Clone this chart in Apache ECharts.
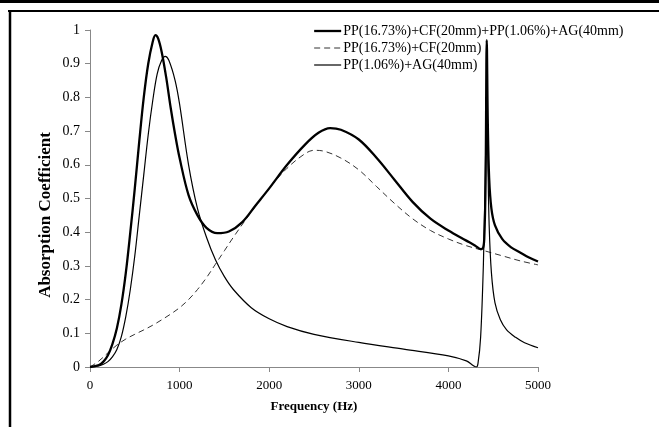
<!DOCTYPE html>
<html><head><meta charset="utf-8">
<script src="https://cdn.jsdelivr.net/npm/echarts@6/dist/echarts.min.js"></script>
<style>html,body{margin:0;padding:0;background:#fff}#c{width:659px;height:427px}</style>
</head><body><div id="c"></div>
<script>
const seriesNames = ['PP(16.73%)+CF(20mm)+PP(1.06%)+AG(40mm)', 'PP(16.73%)+CF(20mm)', 'PP(1.06%)+AG(40mm)'];
const xTicks = [0, 1000, 2000, 3000, 4000, 5000];
const yTicks = [0, 0.1, 0.2, 0.3, 0.4, 0.5, 0.6, 0.7, 0.8, 0.9, 1];
const xTitle = 'Frequency (Hz)';
const yTitle = 'Absorption Coefficient';

// [frequency Hz, absorption]
const combined = [
  [0,0],[100,0.006],[150,0.016],[200,0.035],[250,0.068],[300,0.115],[350,0.185],[400,0.28],[450,0.4],[500,0.53],[550,0.67],[600,0.8],[650,0.9],[700,0.965],[730,0.985],[760,0.975],[800,0.935],[850,0.86],[900,0.77],[950,0.69],[1000,0.62],[1100,0.51],[1200,0.45],[1300,0.413],[1420,0.397],[1550,0.402],[1700,0.43],[1850,0.48],[2000,0.53],[2200,0.6],[2400,0.66],[2550,0.695],[2680,0.709],[2800,0.704],[3000,0.675],[3200,0.62],[3400,0.555],[3600,0.49],[3800,0.44],[4000,0.405],[4200,0.375],[4300,0.36],[4360,0.35],[4385,0.352],[4400,0.38],[4415,0.55],[4428,0.97],[4440,0.72],[4455,0.56],[4480,0.47],[4520,0.42],[4600,0.38],[4700,0.355],[4800,0.34],[4900,0.325],[5000,0.313]
];
const withCF = [
  [0,0],[100,0.018],[200,0.042],[300,0.065],[400,0.083],[500,0.097],[600,0.11],[700,0.124],[800,0.14],[900,0.157],[1000,0.176],[1100,0.2],[1200,0.23],[1300,0.265],[1400,0.305],[1500,0.345],[1600,0.385],[1800,0.46],[2000,0.53],[2200,0.59],[2400,0.633],[2500,0.643],[2600,0.641],[2800,0.62],[3000,0.585],[3200,0.535],[3400,0.485],[3600,0.44],[3800,0.405],[4000,0.38],[4200,0.36],[4400,0.345],[4600,0.33],[4800,0.315],[5000,0.303]
];
const agOnly = [
  [0,0],[100,0.003],[150,0.008],[200,0.016],[250,0.03],[300,0.052],[350,0.09],[400,0.15],[450,0.23],[500,0.33],[550,0.45],[600,0.57],[650,0.69],[700,0.79],[750,0.87],[800,0.91],[840,0.922],[880,0.91],[950,0.85],[1000,0.78],[1100,0.6],[1200,0.47],[1300,0.385],[1400,0.318],[1500,0.268],[1600,0.23],[1800,0.176],[2000,0.143],[2200,0.12],[2500,0.097],[3000,0.073],[3500,0.053],[4000,0.033],[4200,0.018],[4280,0.004],[4310,0.0],[4330,0.01],[4360,0.09],[4390,0.3],[4410,0.55],[4428,0.78],[4440,0.62],[4455,0.42],[4480,0.28],[4520,0.19],[4580,0.14],[4650,0.11],[4750,0.088],[4850,0.072],[5000,0.057]
];

const chart = echarts.init(document.getElementById('c'));
const FONT = 'Liberation Serif';
const lineWidths = [2.3, 1, 1.2];
chart.setOption({
  animation: false,
  backgroundColor: '#fff',
  grid: { left: 90, right: 121, top: 30, bottom: 60 },
  graphic: [
    { type: 'rect', shape: { x: 0, y: 0, width: 659, height: 3 }, style: { fill: '#000' } },
    { type: 'line', shape: { x1: 8, y1: 11, x2: 659, y2: 11 }, style: { stroke: '#000', lineWidth: 2 } },
    { type: 'line', shape: { x1: 10, y1: 10, x2: 10, y2: 427 }, style: { stroke: '#000', lineWidth: 2.5 } },
    { type: 'text', x: 46, y: 215, rotation: Math.PI / 2,
      style: { text: yTitle, fontFamily: FONT, fontSize: 17, fontWeight: 'bold', fill: '#000', align: 'center', verticalAlign: 'middle' } }
  ],
  legend: {
    orient: 'vertical', left: 313, top: 24, padding: 0, itemGap: 3, itemWidth: 27, itemHeight: 14,
    data: seriesNames.map((n, i) => ({ name: n, lineStyle: { width: lineWidths[i] } })),
    itemStyle: { opacity: 0 },
    textStyle: { fontFamily: FONT, fontSize: 14, color: '#000', padding: [0,0,0,-3] }
  },
  xAxis: {
    type: 'value', min: xTicks[0], max: xTicks[xTicks.length-1], interval: 1000,
    name: xTitle, nameLocation: 'middle', nameGap: 33,
    nameTextStyle: { fontFamily: FONT, fontSize: 13, fontWeight: 'bold', color: '#000' },
    axisLine: { lineStyle: { color: '#888', width: 1 } },
    axisTick: { show: true, length: 5, lineStyle: { color: '#888' } },
    axisLabel: { fontFamily: FONT, fontSize: 13, color: '#000', margin: 12, formatter: v => String(v) },
    splitLine: { show: false }
  },
  yAxis: {
    type: 'value', min: yTicks[0], max: yTicks[yTicks.length-1], interval: 0.1,
    axisLine: { show: true, lineStyle: { color: '#888', width: 1 } },
    axisTick: { show: true, length: 5, lineStyle: { color: '#888' } },
    axisLabel: { fontFamily: FONT, fontSize: 14, color: '#000', margin: 10 },
    splitLine: { show: false }
  },
  series: [
    { name: seriesNames[0], type: 'line', data: combined, symbol: 'none', smooth: 0.35,
      lineStyle: { color: '#000', width: lineWidths[0] }, itemStyle: { color: '#000' }, z: 3 },
    { name: seriesNames[1], type: 'line', data: withCF, symbol: 'none', smooth: 0.35,
      lineStyle: { color: '#333', width: lineWidths[1], type: [6, 4] }, itemStyle: { color: '#333' }, z: 2 },
    { name: seriesNames[2], type: 'line', data: agOnly, symbol: 'none', smooth: 0.35,
      lineStyle: { color: '#000', width: lineWidths[2] }, itemStyle: { color: '#000' }, z: 2 }
  ]
});
</script></body></html>
